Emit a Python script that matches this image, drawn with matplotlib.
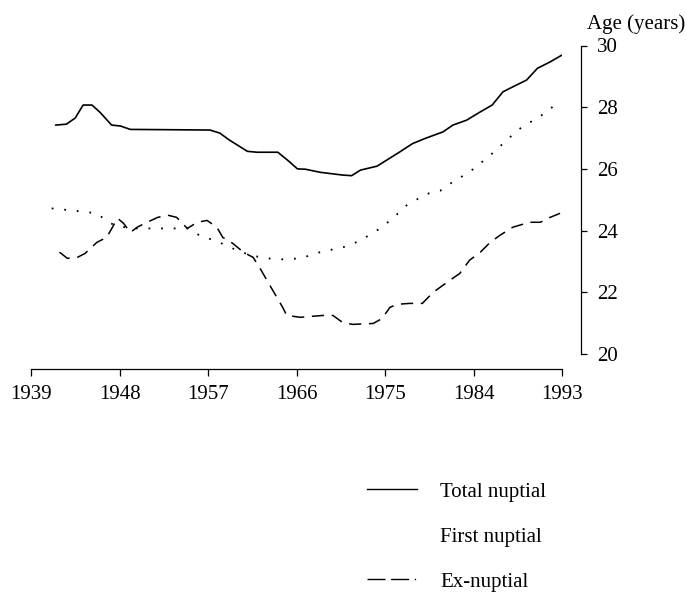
import matplotlib
matplotlib.use("Agg")
import matplotlib.pyplot as plt
from matplotlib.lines import Line2D

plt.rcParams['font.family'] = ['Liberation Serif', 'DejaVu Serif']

# ---- data ----
total_years = [1941.5, 1942.6, 1943.5, 1944.3, 1945.2, 1946.0, 1947.2, 1948.1, 1949.1,
               1957.2, 1958.2, 1959.2, 1961.0, 1962.0, 1964.1, 1965.1, 1966.1, 1966.9,
               1968.4, 1970.7, 1971.6, 1972.5, 1974.2, 1975.5, 1976.5, 1977.8, 1979.1,
               1980.9, 1981.9, 1983.3, 1984.7, 1985.9, 1987.0, 1988.0, 1989.4, 1990.5,
               1991.8, 1993.0]
total_age = [27.42, 27.45, 27.65, 28.07, 28.07, 27.84, 27.42, 27.39, 27.28,
             27.26, 27.16, 26.93, 26.57, 26.54, 26.54, 26.28, 26.00, 25.99,
             25.89, 25.80, 25.78, 25.96, 26.09, 26.35, 26.55, 26.82, 26.99,
             27.20, 27.42, 27.58, 27.85, 28.07, 28.50, 28.66, 28.88, 29.26,
             29.47, 29.69]

first_years = [1941.1, 1943.0, 1945.7, 1947.0, 1948.1, 1949.1, 1954.9, 1956.5, 1957.7,
               1959.2, 1961.3, 1963.0, 1964.6, 1966.4, 1968.4, 1971.1, 1972.5, 1974.5,
               1975.8, 1977.2, 1978.1, 1978.9, 1979.6, 1980.6, 1981.9, 1983.6, 1985.7,
               1987.0, 1988.5, 1990.1, 1991.5, 1992.6]
first_age = [24.72, 24.66, 24.56, 24.24, 24.14, 24.07, 24.07, 23.78, 23.69,
             23.46, 23.20, 23.10, 23.07, 23.10, 23.30, 23.49, 23.68, 24.07,
             24.40, 24.82, 24.98, 25.15, 25.22, 25.29, 25.58, 25.90, 26.44,
             26.82, 27.26, 27.58, 27.85, 28.18]

ex_years = [1941.9, 1942.7, 1943.7, 1944.5, 1945.7, 1946.7, 1947.8, 1948.4, 1949.1,
            1949.8, 1950.8, 1951.9, 1952.9, 1953.8, 1954.9, 1955.9, 1956.9, 1957.9,
            1958.5, 1959.5, 1960.6, 1961.6, 1962.3, 1963.3, 1964.6, 1965.0, 1966.4,
            1968.7, 1969.7, 1970.7, 1971.7, 1973.8, 1974.7, 1975.5, 1976.2, 1977.5,
            1978.8, 1979.9, 1981.6, 1982.6, 1983.6, 1984.7, 1985.7, 1986.7, 1988.0,
            1989.7, 1990.8, 1991.8, 1992.8]
ex_age = [23.30, 23.10, 23.13, 23.26, 23.62, 23.78, 24.40, 24.24, 23.94,
          24.11, 24.27, 24.43, 24.50, 24.43, 24.07, 24.27, 24.33, 24.11,
          23.78, 23.59, 23.30, 23.13, 22.77, 22.22, 21.51, 21.25, 21.19,
          21.25, 21.25, 21.02, 20.96, 20.99, 21.15, 21.51, 21.61, 21.64,
          21.64, 22.00, 22.39, 22.61, 23.04, 23.30, 23.62, 23.85, 24.11,
          24.27, 24.27, 24.43, 24.56]

year_ticks = [1939, 1948, 1957, 1966, 1975, 1984, 1993]
age_ticks = [20, 22, 24, 26, 28, 30]
labels = ["Total nuptial", "First nuptial", "Ex-nuptial"]

# ---- figure ----
W, H = 686, 596
fig = plt.figure(figsize=(W / 100, H / 100), dpi=100)
ax = fig.add_axes([31 / W, 1 - 354 / H, (562 - 31) / W, (354 - 45.5) / H])

ax.plot(total_years, total_age, color='black', lw=1.2, solid_capstyle='round')
ax.plot(first_years, first_age, color='black', lw=1.3, linestyle=(0, (1, 6)))
ax.plot(ex_years, ex_age, color='black', lw=1.1, linestyle=(0, (8, 5)))

ax.set_xlim(1939, 1993)
ax.set_ylim(20, 30)

for s in ['top', 'left']:
    ax.spines[s].set_visible(False)
ax.spines['bottom'].set_position(('outward', 10.8))
ax.spines['right'].set_position(('outward', 13.7))
ax.spines['bottom'].set_linewidth(0.9)
ax.spines['right'].set_linewidth(0.9)

ax.yaxis.tick_right()
ax.set_xticks(year_ticks)
ax.set_xticklabels([str(y) for y in year_ticks])
ax.set_yticks(age_ticks)
ax.set_yticklabels([str(a) for a in age_ticks])
ax.tick_params(axis='x', direction='out', length=5, width=0.9, pad=6.5, labelsize=15)
ax.tick_params(axis='y', direction='out', length=4.5, width=0.9, pad=7, labelsize=15,
               right=True, left=False)

fig.text(0.999, 1 - 24 / H, "Age (years)", ha='right', va='center', fontsize=15)

handles = [
    Line2D([], [], color='black', lw=1.0),
    Line2D([], [], color='black', lw=1.0, linestyle=(0, (1, 6)), alpha=0.0),
    Line2D([], [], color='black', lw=1.0, linestyle=(0, (13, 4, 13, 4, 1, 20))),
]
fig.legend(handles, labels, loc='upper left',
           bbox_to_anchor=(367 / W, 1 - 482 / H),
           frameon=False, fontsize=15, handlelength=2.4, handletextpad=1.1,
           labelspacing=1.22, borderpad=0, borderaxespad=0)

fig.savefig("out.png", dpi=100)
